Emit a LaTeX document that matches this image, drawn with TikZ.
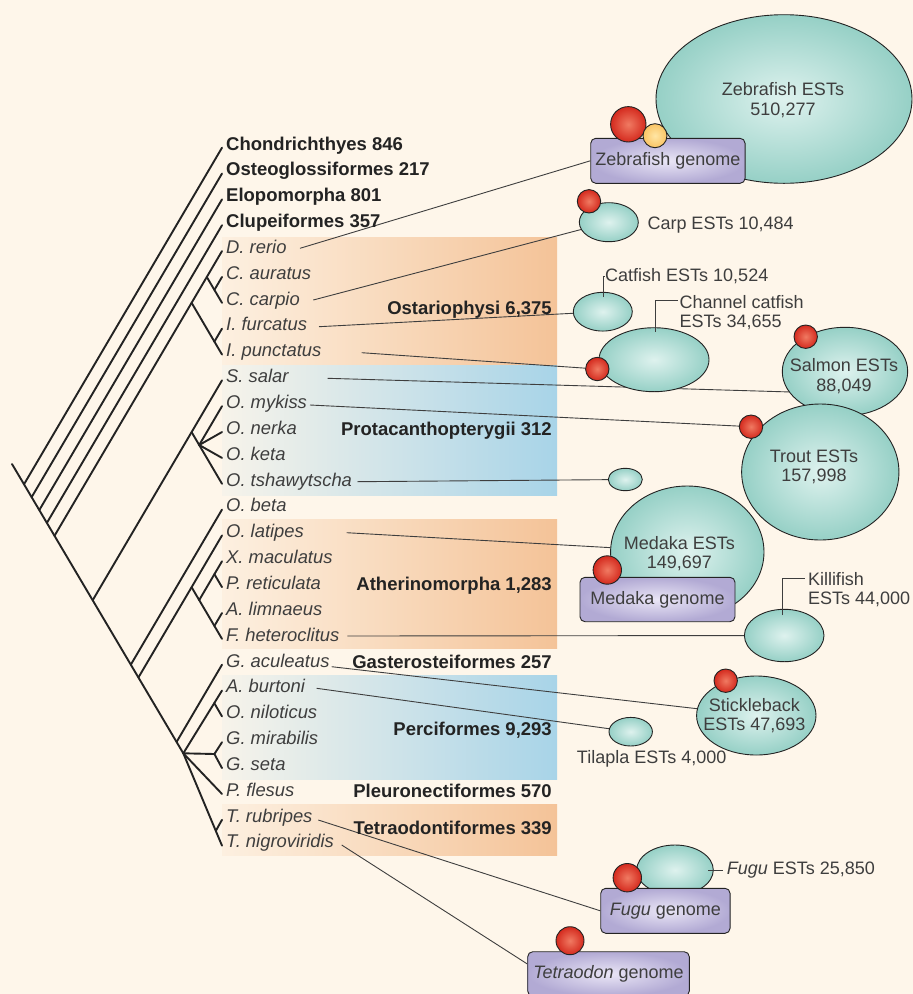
\documentclass[tikz,border=0pt]{standalone}
\usepackage{fontspec}
\setmainfont{Liberation Sans}
\usetikzlibrary{shapes.geometric,calc,backgrounds}

\definecolor{bg}{RGB}{254,246,234}
\definecolor{bandorange}{RGB}{244,195,152}
\definecolor{bandblue}{RGB}{168,212,232}
\definecolor{ink}{RGB}{35,35,35}
\definecolor{txtgray}{RGB}{62,62,62}
\definecolor{estin}{RGB}{222,242,238}
\definecolor{estout}{RGB}{150,208,198}
\definecolor{genin}{RGB}{234,230,246}
\definecolor{genout}{RGB}{178,170,212}
\definecolor{redin}{RGB}{240,122,98}
\definecolor{redout}{RGB}{212,42,30}
\definecolor{yelin}{RGB}{255,230,165}
\definecolor{yelout}{RGB}{250,196,100}

\tikzstyle{branch}=[line width=1.9pt, draw=ink, line cap=round, line join=round]
\tikzstyle{link}=[line width=0.9pt, draw=txtgray]
\tikzstyle{species}=[anchor=base west, inner sep=0pt, text=txtgray,
                     font=\fontsize{18.4}{20}\selectfont\itshape]
\tikzstyle{outgroup}=[anchor=base west, inner sep=0pt, text=ink,
                      font=\fontsize{18.5}{20}\selectfont\bfseries]
\tikzstyle{clade}=[anchor=base east, inner sep=0pt, text=ink,
                   font=\fontsize{18.5}{20}\selectfont\bfseries]
\tikzstyle{est}=[ellipse, draw=ink, line width=0.9pt, inner sep=0pt,
                 inner color=estin, outer color=estout]
\tikzstyle{genome}=[rectangle, rounded corners=5pt, draw=ink, line width=0.9pt,
                    inner color=genin, outer color=genout, text=txtgray,
                    font=\fontsize{18}{20}\selectfont]
\tikzstyle{redball}=[circle, draw=ink, line width=0.9pt, inner sep=0pt,
                     inner color=redin, outer color=redout]
\tikzstyle{yellowball}=[circle, draw=ink, line width=0.9pt, inner sep=0pt,
                        inner color=yelin, outer color=yelout]
\tikzstyle{esttext}=[text=txtgray, align=center, inner sep=0pt,
                     font=\fontsize{18}{19.5}\selectfont]
\tikzstyle{estlabel}=[text=txtgray, align=left, inner sep=0pt,
                      font=\fontsize{18}{19.5}\selectfont]

\begin{document}
\begin{tikzpicture}[x=1pt,y=-1pt,>=latex]
  \useasboundingbox (0,0) rectangle (913,994);

  % Background and the shaded bands behind the clades
  \begin{scope}[on background layer]
    \fill[bg] (0,0) rectangle (913,994);
    \shade[left color=bandorange!12!bg, right color=bandorange] (222,237) rectangle (557,365);
    \shade[left color=bandblue!8!bg, right color=bandblue] (222,365) rectangle (557,495);
    \shade[left color=bandorange!12!bg, right color=bandorange] (222,519) rectangle (557,648);
    \shade[left color=bandblue!8!bg, right color=bandblue] (222,675) rectangle (557,779);
    \shade[left color=bandorange!12!bg, right color=bandorange] (222,804) rectangle (557,855);
  \end{scope}

  % Leaves of the tree
  \foreach \i/\nm/\txt in {0/chond/Chondrichthyes 846,
                           1/osteo/Osteoglossiformes 217,
                           2/elopo/Elopomorpha 801,
                           3/clupe/Clupeiformes 357}
  {
    \node[outgroup] (l\nm) at (226,{150+25.85*\i}) {\txt};
    \coordinate (t\nm) at (222,{147.7+25.85*\i});
  }
  \foreach \i/\nm/\txt in {4/drer/D. rerio, 5/caur/C. auratus, 6/ccar/C. carpio,
                           7/ifur/I. furcatus, 8/ipun/I. punctatus, 9/ssal/S. salar,
                           10/omyk/O. mykiss, 11/oner/O. nerka, 12/oket/O. keta,
                           13/otsh/O. tshawytscha, 14/obet/O. beta, 15/olat/O. latipes,
                           16/xmac/X. maculatus, 17/pret/P. reticulata,
                           18/alim/A. limnaeus, 19/fhet/F. heteroclitus,
                           20/gacu/G. aculeatus, 21/abur/A. burtoni,
                           22/onil/O. niloticus, 23/gmir/G. mirabilis, 24/gset/G. seta,
                           25/pfle/P. flesus, 26/trub/T. rubripes, 27/tnig/T. nigroviridis}
  {
    \node[species] (l\nm) at (226,{150+25.85*\i}) {\txt};
    \coordinate (t\nm) at (222,{147.7+25.85*\i});
  }

  % Clade names
  \node[clade] (gostar) at (552,314.9) {Ostariophysi 6,375};
  \node[clade] (gprota) at (552,435.6) {Protacanthopterygii 312};
  \node[clade] (gather) at (552,590.6) {Atherinomorpha 1,283};
  \node[clade] (ggaste) at (552,668.6) {Gasterosteiformes 257};
  \node[clade] (gperci) at (552,735.6) {Perciformes 9,293};
  \node[clade] (gpleur) at (552,797.6) {Pleuronectiformes 570};
  \node[clade] (gtetra) at (552,834.6) {Tetraodontiformes 339};

  % Joints on the backbone and inner nodes
  \coordinate (root)   at (12,464);
  \coordinate (jchond) at (24.0,484.3);
  \coordinate (josteo) at (31.6,497.2);
  \coordinate (jelopo) at (39.3,510.1);
  \coordinate (jclupe) at (46.9,522.9);
  \coordinate (jostar) at (54.5,535.8);
  \coordinate (jprota) at (92.7,600.2);
  \coordinate (jobet)  at (130.8,664.7);
  \coordinate (jather) at (138.4,677.5);
  \coordinate (jgacu)  at (176.6,741.9);
  \coordinate (npoly)  at (183.3,753.3);
  \coordinate (nostar) at (191.6,302.8);
  \coordinate (ncypr)  at (206.8,277.0);
  \coordinate (ncarp)  at (214.4,289.9);
  \coordinate (ncatf)  at (214.4,341.6);
  \coordinate (nprota) at (191.6,432.1);
  \coordinate (nonco)  at (199.2,445.0);
  \coordinate (nather) at (191.6,587.2);
  \coordinate (nxpaf)  at (199.2,600.1);
  \coordinate (nxp)    at (214.4,574.2);
  \coordinate (naf)    at (214.4,625.9);
  \coordinate (ngob)   at (214.4,754.0);
  \coordinate (nabur)  at ($(npoly)!0.8!(tabur)$);
  \coordinate (ntetr)  at ($(npoly)!0.84!(ttnig)$);

  % The tree itself
  \draw[branch] (root) -- (npoly);
  \path[branch]
    (jchond) edge (tchond)
    (josteo) edge (tosteo)
    (jelopo) edge (telopo)
    (jclupe) edge (tclupe)
    (jostar) edge (nostar)
    (nostar) edge (ncypr)
    (ncypr)  edge (tdrer)
    (ncypr)  edge (ncarp)
    (ncarp)  edge (tcaur)
    (ncarp)  edge (tccar)
    (nostar) edge (ncatf)
    (ncatf)  edge (tifur)
    (ncatf)  edge (tipun)
    (jprota) edge (nprota)
    (nprota) edge (tssal)
    (nprota) edge (totsh)
    (nonco)  edge (tomyk)
    (nonco)  edge (toner)
    (nonco)  edge (toket)
    (jobet)  edge (tobet)
    (jather) edge (nather)
    (nather) edge (tolat)
    (nather) edge (nxpaf)
    (nxpaf)  edge (nxp)
    (nxp)    edge (txmac)
    (nxp)    edge (tpret)
    (nxpaf)  edge (naf)
    (naf)    edge (talim)
    (naf)    edge (tfhet)
    (jgacu)  edge (tgacu)
    (npoly)  edge (tabur)
    (nabur)  edge (tonil)
    (npoly)  edge (ngob)
    (ngob)   edge (tgmir)
    (ngob)   edge (tgset)
    (npoly)  edge (tpfle)
    (npoly)  edge (ttnig)
    (ntetr)  edge (ttrub)
;

  % EST collections and genomes
  \node[est, minimum width=256pt, minimum height=168.6pt] (zfest) at (784,99) {};
  \node[esttext] (zfesttxt) at (783,100) {Zebrafish ESTs\\510,277};
  \node[genome, minimum width=154.3pt, minimum height=45pt] (zfgen) at (667.9,160.8) {Zebrafish genome};
  \node[redball, minimum size=35.4pt] (zfred) at (628.3,124.3) {};
  \node[yellowball, minimum size=24pt] (zfyel) at (655,135.7) {};

  \node[est, minimum width=59pt, minimum height=39pt] (carp) at (608.8,222.2) {};
  \node[redball, minimum size=23.4pt] (carpred) at (589,201.3) {};
  \node[estlabel, anchor=west] (lcarp) at (647.3,225) {Carp ESTs 10,484};

  \node[est, minimum width=59pt, minimum height=38.7pt] (catf) at (602.8,311.7) {};
  \node[estlabel, anchor=west] (lcatf) at (605,276) {Catfish ESTs 10,524};

  \node[est, minimum width=110pt, minimum height=64pt] (chan) at (654,359.7) {};
  \node[redball, minimum size=23.4pt] (chanred) at (597.3,369) {};
  \node[estlabel, anchor=north west] (lchan) at (679.5,295.2) {Channel catfish\\ESTs 34,655};

  \node[est, minimum width=125.4pt, minimum height=88.4pt] (salm) at (845,371.5) {};
  \node[esttext] (salmtxt) at (844,376) {Salmon ESTs\\88,049};
  \node[redball, minimum size=23.4pt] (salmred) at (805.7,336.7) {};

  \node[est, minimum width=34pt, minimum height=22.4pt] (chin) at (625.3,479.5) {};

  \node[est, minimum width=153.4pt, minimum height=132pt] (meda) at (687.3,552) {};
  \node[esttext] (medatxt) at (679.3,553.7) {Medaka ESTs\\149,697};
  \node[genome, minimum width=155pt, minimum height=44.4pt] (medagen) at (657.5,599.5) {Medaka genome};
  \node[redball, minimum size=28.4pt] (medared) at (607.3,570) {};

  \node[est, minimum width=157.3pt, minimum height=136pt] (trout) at (820.3,472) {};
  \node[esttext] (trouttxt) at (814,466.7) {Trout ESTs\\157,998};
  \node[redball, minimum size=23.4pt] (troutred) at (751,426.7) {};

  \node[est, minimum width=79.6pt, minimum height=52.4pt] (killi) at (784.2,635.5) {};
  \node[estlabel, anchor=north west] (lkilli) at (807.8,571.8) {Killifish\\ESTs 44,000};

  \node[est, minimum width=119.4pt, minimum height=79pt] (stick) at (756.3,715.5) {};
  \node[esttext] (sticktxt) at (754.3,715.7) {Stickleback\\ESTs 47,693};
  \node[redball, minimum size=23.4pt] (stickred) at (725.7,680.7) {};

  \node[est, minimum width=43.4pt, minimum height=28.6pt] (tilap) at (630.7,731.7) {};
  \node[estlabel] (ltilap) at (651.7,759.3) {Tilapla ESTs 4,000};

  \node[est, minimum width=76.6pt, minimum height=50pt] (fugu) at (675,870) {};
  \node[estlabel, anchor=west] (lfugu) at (726.7,870) {\textit{Fugu} ESTs 25,850};
  \node[genome, minimum width=129.3pt, minimum height=45pt] (fugugen) at (665.4,910.8) {\textit{Fugu} genome};
  \node[redball, minimum size=28.4pt] (fugured) at (627.3,877.7) {};

  \node[genome, minimum width=161.6pt, minimum height=44.3pt] (tetgen) at (608.5,973.9) {\textit{Tetraodon} genome};
  \node[redball, minimum size=28pt] (tetred) at (570,940.7) {};

  % Free ends of the connectors
  \coordinate (cdrer) at (300,248.3);
  \coordinate (cccar) at (313.3,300);
  \coordinate (cifur) at (319,326.7);
  \coordinate (cipun) at (361.7,352.7);
  \coordinate (cssal) at (327.7,378.3);
  \coordinate (comyk) at (310,405);
  \coordinate (cotsh) at (357.3,481.7);
  \coordinate (colat) at (346.7,532.7);
  \coordinate (cfhet) at (347.3,636);
  \coordinate (cgacu) at (331.7,666.7);
  \coordinate (cabur) at (316.7,688.3);
  \coordinate (ctrub) at (318.3,820);
  \coordinate (ctnig) at (341.7,845);
  \coordinate (kcatf) at (603.3,297);
  \coordinate (kchan) at (655,331.7);
  \coordinate (kchantop) at (678.3,300.7);
  \coordinate (kkilli) at (782.7,615);
  \coordinate (kkillitop) at (805,578.3);
  \coordinate (kfugu) at (708.3,870);
  \coordinate (kfugutop) at (723.3,870);

  % Species are now linked to their data sets
  \begin{scope}[on background layer]
    \path[link]
      (cdrer) edge (zfgen.west)
      (cccar) edge (carp)
      (cifur) edge (catf)
      (cipun) edge (chanred)
      (cssal) edge (salm.200)
      (comyk) edge (troutred)
      (cotsh) edge (chin)
      (colat) edge (meda)
      (cfhet) edge (killi)
      (cgacu) edge (stick)
      (cabur) edge (tilap)
      (ctrub) edge (fugugen.west)
      (ctnig) edge (tetgen.173)
;
  \end{scope}
  \draw[link] (kcatf) |- (lcatf.west);
  \draw[link] (kchan) |- (kchantop);
  \draw[link] (kkilli) |- (kkillitop);
  \draw[link] (kfugu) -- (kfugutop);

\end{tikzpicture}
\end{document}
